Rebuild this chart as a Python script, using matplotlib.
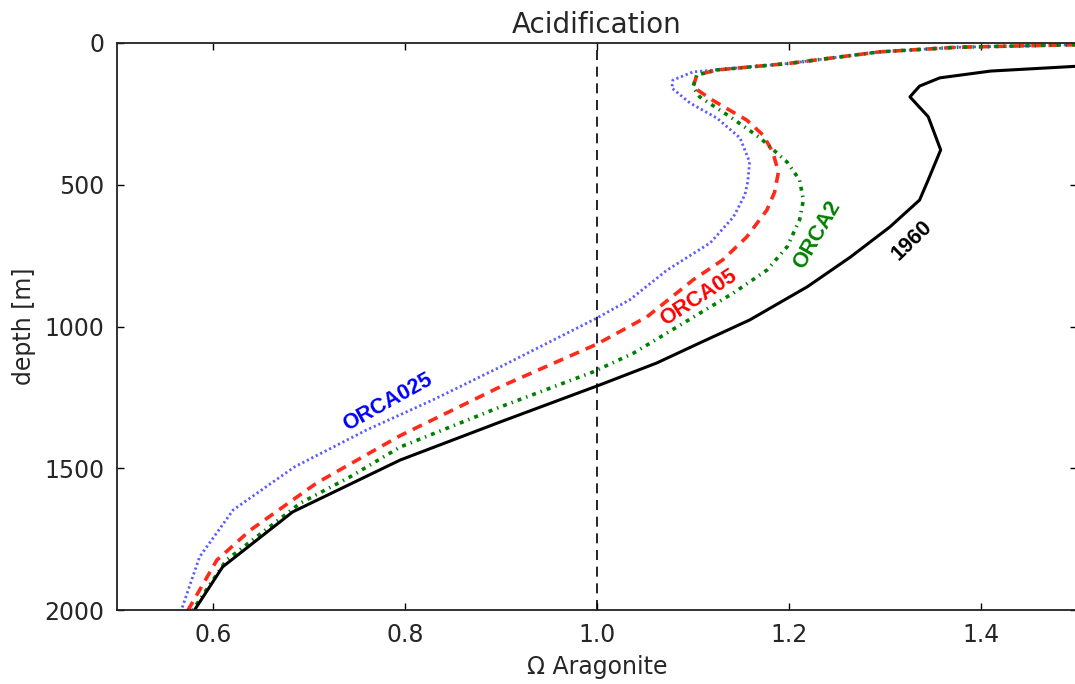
import matplotlib
matplotlib.use("Agg")
import matplotlib.pyplot as plt

# Omega aragonite profiles (value, depth in m)
depth_1960 = [60, 82, 99, 123, 152, 190, 260, 377, 483, 554, 649, 755, 860, 977,
              1058, 1129, 1206, 1337, 1471, 1654, 1848, 2030]
omega_1960 = [1.62, 1.50, 1.41, 1.357, 1.336, 1.326, 1.345, 1.358, 1.345, 1.336,
              1.305, 1.264, 1.219, 1.159, 1.107, 1.062, 1.003, 0.899, 0.795, 0.683,
              0.610, 0.575]

depth_orca2 = [0, 6, 15, 31, 72, 95, 113, 155, 190, 261, 335, 420, 483, 554, 624,
               719, 801, 882, 988, 1094, 1160, 1284, 1425, 1530, 1623, 1824, 2030]
omega_orca2 = [1.56, 1.50, 1.375, 1.295, 1.20, 1.125, 1.104, 1.10, 1.107, 1.139,
               1.170, 1.198, 1.211, 1.215, 1.211, 1.198, 1.177, 1.142, 1.090, 1.038,
               0.996, 0.899, 0.795, 0.743, 0.691, 0.614, 0.573]

depth_orca05 = [0, 6, 15, 31, 72, 95, 113, 155, 201, 272, 325, 384, 455, 526, 589,
                684, 765, 836, 966, 1062, 1213, 1385, 1552, 1718, 1824, 2030]
omega_orca05 = [1.56, 1.50, 1.375, 1.295, 1.20, 1.125, 1.104, 1.10, 1.12, 1.156,
                1.173, 1.183, 1.189, 1.185, 1.177, 1.156, 1.131, 1.100, 1.052, 1.0,
                0.899, 0.795, 0.708, 0.639, 0.604, 0.569]

depth_orca025 = [0, 6, 15, 31, 72, 102, 131, 159, 212, 265, 335, 420, 490, 536, 614,
                 705, 801, 906, 970, 1023, 1143, 1259, 1365, 1495, 1647, 1813, 2030]
omega_orca025 = [1.56, 1.50, 1.375, 1.295, 1.20, 1.10, 1.079, 1.078, 1.097, 1.125,
                 1.149, 1.159, 1.157, 1.154, 1.142, 1.118, 1.073, 1.034, 1.0, 0.969,
                 0.899, 0.829, 0.760, 0.685, 0.621, 0.586, 0.564]

x_ticks = [0.6, 0.8, 1.0, 1.2, 1.4]
y_ticks = [0, 500, 1000, 1500, 2000]

# curve labels: text, omega, depth, rotation, colour
labels = [
    ("ORCA025", 0.782, 1266, 29, "#0000ff"),
    ("ORCA05", 1.106, 899, 33, "#ff0000"),
    ("ORCA2", 1.229, 677, 60, "#008000"),
    ("1960", 1.328, 698, 44, "#000000"),
]

fig = plt.figure(figsize=(10.75, 6.84), dpi=100)
ax = fig.add_axes([117 / 1075, 74 / 684, 960 / 1075, 567 / 684])

ax.plot(omega_orca025, depth_orca025, color="#5c5cff", lw=2.0,
        linestyle=(0, (0.8, 1.0)))
ax.plot(omega_orca05, depth_orca05, color="#ff2a1a", lw=2.6,
        linestyle=(0, (2.8, 2.0)))
ax.plot(omega_orca2, depth_orca2, color="#008000", lw=2.6,
        linestyle=(0, (1.1, 1.4, 0.4, 1.4)))
ax.plot(omega_1960, depth_1960, color="black", lw=2.2)

ax.axvline(1.0, color="black", lw=1.2, linestyle=(0, (6, 4)))

for txt, xv, yv, rot, col in labels:
    ax.text(xv, yv, txt, color=col, rotation=rot, fontsize=15.5, fontweight="bold",
            family="Liberation Sans", ha="center", va="center",
            rotation_mode="anchor")

ax.set_xlim(0.5, 1.5)
ax.set_ylim(2000, 0)
ax.set_xticks(x_ticks)
ax.set_yticks(y_ticks)
ax.set_xticklabels([f"{v:.1f}" for v in x_ticks])
ax.set_yticklabels([str(v) for v in y_ticks])

ax.tick_params(direction="in", length=5, width=1, top=True, right=True,
               labelsize=17, labelcolor="#262626", pad=9)
for sp in ax.spines.values():
    sp.set_linewidth(1.3)
    sp.set_color("#222222")

ax.set_title("Acidification", fontsize=20, color="#262626", pad=7)
ax.set_xlabel("\u03a9 Aragonite", fontsize=17, color="#262626", labelpad=6)
ax.set_ylabel("depth [m]", fontsize=17, color="#262626", labelpad=6)

fig.savefig("out.png", dpi=100)
